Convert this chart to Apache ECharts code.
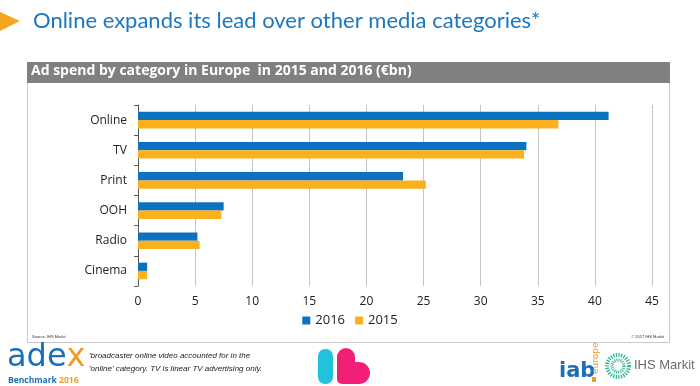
<!DOCTYPE html>
<html><head><meta charset="utf-8">
<script src="https://cdn.jsdelivr.net/npm/echarts@6/dist/echarts.min.js"></script>
<style>html,body{margin:0;padding:0;background:#fff}#c{width:700px;height:386px}</style>
</head><body><div id="c"></div>
<script>
const categories = ['Online', 'TV', 'Print', 'OOH', 'Radio', 'Cinema'];
const values2016 = [41.2, 34.0, 23.2, 7.5, 5.2, 0.8];
const values2015 = [36.8, 33.8, 25.2, 7.3, 5.4, 0.8];
const seriesNames = ['2016', '2015'];
const xTicks = [0, 5, 10, 15, 20, 25, 30, 35, 40, 45];

const BLUE = '#0b72c0', ORANGE = '#fbb01e';
const chart = echarts.init(document.getElementById('c'), null, {renderer: 'canvas'});
chart.setOption({
  animation: false,
  backgroundColor: '#fff',
  grid: {left: 138, right: 48, top: 105, bottom: 100},
  legend: {
    data: seriesNames, top: 309, left: 'center', itemWidth: 8, itemHeight: 8, itemGap: 10,
    icon: 'rect', textStyle: {fontSize: 13, color: '#222', fontFamily: 'Open Sans'}
  },
  xAxis: {
    type: 'value', min: xTicks[0], max: xTicks[xTicks.length - 1], interval: 5,
    axisLine: {show: false}, axisTick: {show: false},
    axisLabel: {fontSize: 12, color: '#222', fontFamily: 'Open Sans', margin: 10},
    splitLine: {lineStyle: {color: '#c4c4c4', width: 1}}
  },
  yAxis: {
    type: 'category', data: categories, inverse: true,
    axisLine: {lineStyle: {color: '#555', width: 1}},
    axisTick: {show: true, length: 4, lineStyle: {color: '#555'}},
    axisLabel: {fontSize: 12, color: '#222', fontFamily: 'Open Sans', margin: 11}
  },
  series: [
    {name: seriesNames[0], type: 'bar', data: values2016, itemStyle: {color: BLUE}, barGap: '0%', barCategoryGap: '45%'},
    {name: seriesNames[1], type: 'bar', data: values2015, itemStyle: {color: ORANGE}, barGap: '0%', barCategoryGap: '45%'}
  ],
  graphic: [
    {type: 'polygon', z: 1, shape: {points: [[0, 12], [20, 21], [0, 31]]}, style: {fill: '#f6a61e'}},
    {type: 'text', z: 1, x: 33, y: 10, style: {text: 'Online expands its lead over other media categories*', fontSize: 22, fill: '#1b78c0', fontFamily: 'Lato'}},
    {type: 'rect', z: -1, shape: {x: 27.5, y: 62.5, width: 642, height: 280}, style: {fill: '#fff', stroke: '#c9c9c9', lineWidth: 1}},
    {type: 'rect', z: 0, shape: {x: 27, y: 62, width: 643, height: 21}, style: {fill: '#808080'}},
    {type: 'text', z: 1, x: 31, y: 64, style: {text: 'Ad spend by category in Europe  in 2015 and 2016 (€bn)', fontSize: 14, fontWeight: 'bold', fill: '#fff', fontFamily: 'Open Sans'}},
    {type: 'text', z: 1, x: 32, y: 335, style: {text: 'Source: IHS Markit', fontSize: 4, fill: '#333', fontFamily: 'Liberation Sans'}},
    {type: 'text', z: 1, x: 664, y: 335, style: {text: '© 2017 IHS Markit', fontSize: 4, fill: '#333', fontFamily: 'Liberation Sans', align: 'right'}},
    {type: 'text', z: 1, x: 7, y: 342, style: {rich: {a: {fontSize: 32, fill: '#1a6fbd', fontFamily: 'DejaVu Sans'}, b: {fontSize: 32, fill: '#f29a1f', fontFamily: 'DejaVu Sans'}}, text: '{a|ade}{b|x}'}},
    {type: 'text', z: 1, x: 8, y: 376, style: {rich: {a: {fontSize: 8.5, fontWeight: 'bold', fill: '#1a6fbd', fontFamily: 'Open Sans'}, b: {fontSize: 8.5, fontWeight: 'bold', fill: '#f29a1f', fontFamily: 'Open Sans'}}, text: '{a|Benchmark }{b|2016}'}},
    {type: 'text', z: 1, x: 89, y: 349, style: {text: "'broadcaster online video accounted for in the\n'online' category. TV is linear TV advertising only.", fontSize: 8, fontStyle: 'italic', lineHeight: 13, fill: '#222', fontFamily: 'Liberation Sans'}},
    {type: 'rect', z: 1, shape: {x: 318, y: 349, width: 15, height: 35, r: 7}, style: {fill: '#22c1dc'}},
    {type: 'rect', z: 1, shape: {x: 337, y: 348, width: 18, height: 36, r: [9, 9, 0, 5]}, style: {fill: '#f21f77'}},
    {type: 'circle', z: 1, shape: {cx: 359, cy: 373, r: 11}, style: {fill: '#f21f77'}},
    {type: 'rect', z: 1, shape: {x: 345, y: 362, width: 14, height: 22}, style: {fill: '#f21f77'}},
    {type: 'text', z: 1, x: 559, y: 361, style: {text: 'iab', fontSize: 21, fontWeight: 'bold', fill: '#1f6fb8', fontFamily: 'DejaVu Sans'}},
    {type: 'rect', z: 1, shape: {x: 592, y: 377, width: 4, height: 5}, style: {fill: '#f29a1f'}},
    {type: 'text', z: 1, x: 600, y: 374, rotation: Math.PI / 2, style: {text: 'europe', fontSize: 9, fill: '#f29a1f', fontFamily: 'DejaVu Sans', align: 'left', verticalAlign: 'bottom'}},
    {type: 'circle', z: 1, shape: {cx: 618, cy: 366, r: 11}, style: {fill: 'none', stroke: '#30b795', lineWidth: 4, lineDash: [1.3, 1.3]}},
    {type: 'circle', z: 1, shape: {cx: 618, cy: 366, r: 6}, style: {fill: 'none', stroke: '#30b795', lineWidth: 3, lineDash: [1, 1]}},
    {type: 'text', z: 1, x: 634, y: 359, style: {text: 'IHS Markit', fontSize: 13, fill: '#6c6c6c', fontFamily: 'Liberation Sans'}}
  ]
});
</script></body></html>
